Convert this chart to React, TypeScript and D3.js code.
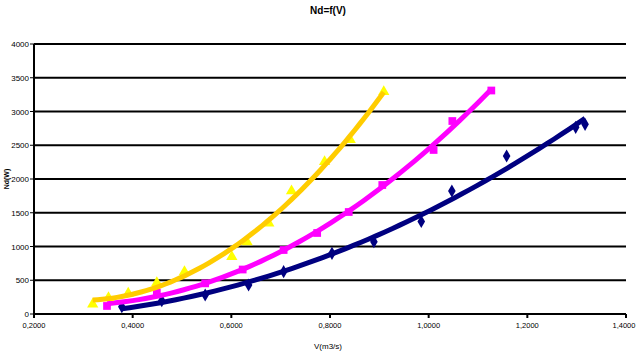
import React from 'react';
import * as d3 from 'd3';

// measured points, V in m3/s, Nd in W
const v1 = [0.378, 0.459, 0.547, 0.635, 0.706, 0.804, 0.889, 0.985, 1.047, 1.158, 1.298, 1.317];
const n1 = [108, 197, 281, 430, 627, 899, 1071, 1370, 1822, 2341, 2766, 2810];

const v2 = [0.348, 0.449, 0.547, 0.623, 0.706, 0.774, 0.838, 0.906, 1.010, 1.048, 1.127];
const n2 = [119, 316, 454, 659, 948, 1200, 1511, 1911, 2430, 2859, 3311];

const v3 = [0.319, 0.351, 0.391, 0.449, 0.505, 0.601, 0.632, 0.676, 0.722, 0.789, 0.841, 0.909];
const n3 = [144, 241, 307, 464, 627, 849, 1067, 1344, 1822, 2256, 2582, 3293];

const xTicks = [0.2, 0.4, 0.6, 0.8, 1.0, 1.2, 1.4];
const yTicks = [0, 500, 1000, 1500, 2000, 2500, 3000, 3500, 4000];

const series = [
  { name: 'diamond', xs: v1, ys: n1, marker: '#000080', line: '#000080' },
  { name: 'square', xs: v2, ys: n2, marker: '#FF00FF', line: '#FF00FF' },
  { name: 'triangle', xs: v3, ys: n3, marker: '#FFFF00', line: '#FFCC00' },
];

// 2nd order polynomial trendline, least squares like excel
function quadFit(xs: number[], ys: number[]) {
  let s0 = 0, s1 = 0, s2 = 0, s3 = 0, s4 = 0, t0 = 0, t1 = 0, t2 = 0;
  xs.forEach((x, i) => {
    const y = ys[i];
    s0 += 1; s1 += x; s2 += x * x; s3 += x * x * x; s4 += x * x * x * x;
    t0 += y; t1 += x * y; t2 += x * x * y;
  });
  const m = [
    [s0, s1, s2, t0],
    [s1, s2, s3, t1],
    [s2, s3, s4, t2],
  ];
  for (let c = 0; c < 3; c++) {
    for (let r = c + 1; r < 3; r++) {
      const f = m[r][c] / m[c][c];
      for (let k = c; k < 4; k++) m[r][k] -= f * m[c][k];
    }
  }
  const b = [0, 0, 0];
  for (let r = 2; r >= 0; r--) {
    let s = m[r][3];
    for (let k = r + 1; k < 3; k++) s -= m[r][k] * b[k];
    b[r] = s / m[r][r];
  }
  return (x: number) => b[0] + b[1] * x + b[2] * x * x;
}

const fmt = (d: number) => d.toFixed(4).replace('.', ',');

export default function App() {
  const width = 636;
  const height = 351;
  const left = 34, right = 626, top = 44, bottom = 314;

  const x = d3.scaleLinear().domain([0.2, 1.4]).range([left, right]);
  const y = d3.scaleLinear().domain([0, 4000]).range([bottom, top]);

  const line = d3.line<[number, number]>()
    .x(d => x(d[0]))
    .y(d => y(d[1]));

  const diamond = d3.symbol().type(d3.symbolDiamond).size(50)();
  const square = d3.symbol().type(d3.symbolSquare).size(60)();
  const triangle = d3.symbol().type(d3.symbolTriangle).size(55)();
  const shapes: Record<string, string | null> = { diamond, square, triangle };

  return (
    <svg width={width} height={height} style={{ position: 'absolute', left: 0, top: 0 }}
      fontFamily="'Liberation Sans', Arial, sans-serif">
      <rect width={width} height={height} fill="#fff" />
      <text x={328} y={14} textAnchor="middle" fontSize={10} fontWeight="bold">Nd=f(V)</text>

      {yTicks.map(t => (
        <g key={t}>
          {t > 0 && <line x1={left} x2={right} y1={y(t)} y2={y(t)} stroke="#000" strokeWidth={2} />}
          <line x1={left - 4} x2={left} y1={y(t)} y2={y(t)} stroke="#000" strokeWidth={1} />
          <text x={left - 5} y={y(t) + 3} textAnchor="end" fontSize={8}>{t}</text>
        </g>
      ))}

      {xTicks.map(t => (
        <g key={t}>
          <line x1={x(t)} x2={x(t)} y1={bottom} y2={bottom + 4} stroke="#000" strokeWidth={2} />
          <text x={Math.min(x(t), width - 12)} y={bottom + 14} textAnchor="middle" fontSize={7.5}>{fmt(t)}</text>
        </g>
      ))}

      <line x1={left} x2={left} y1={top} y2={bottom} stroke="#000" strokeWidth={2} />
      <line x1={left} x2={right} y1={bottom} y2={bottom} stroke="#000" strokeWidth={2} />

      {series.map(s => {
        const f = quadFit(s.xs, s.ys);
        const lo = d3.min(s.xs) as number;
        const hi = d3.max(s.xs) as number;
        const pts: [number, number][] = d3.range(0, 61).map(i => {
          const vx = lo + (hi - lo) * i / 60;
          return [vx, f(vx)];
        });
        return (
          <g key={s.name}>
            {s.xs.map((vx, i) => (
              <path key={i} d={shapes[s.name] || ''} fill={s.marker}
                transform={`translate(${x(vx)},${y(s.ys[i])})`} />
            ))}
            <path d={line(pts) || ''} fill="none" stroke={s.line} strokeWidth={5} />
          </g>
        );
      })}

      <text x={328} y={349} textAnchor="middle" fontSize={8}>V(m3/s)</text>
      <text transform={`translate(9,${(top + bottom) / 2}) rotate(-90)`} textAnchor="middle"
        fontSize={7} fontWeight="bold">Nd(W)</text>
    </svg>
  );
}
